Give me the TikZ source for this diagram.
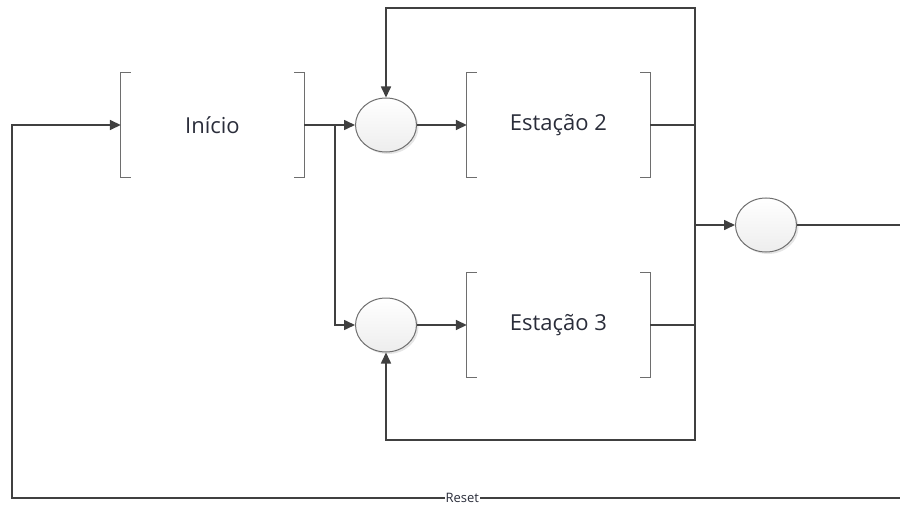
\documentclass[tikz,border=0pt]{standalone}
\usepackage{fontspec}
\setmainfont{Open Sans}
\usetikzlibrary{arrows.meta,shapes.geometric,shadows,positioning}

\definecolor{linegray}{HTML}{404040}
\definecolor{bracketgray}{HTML}{6E6E6E}
\definecolor{circgray}{HTML}{707070}
\definecolor{textdark}{HTML}{2A2D3A}

\tikzset{
  stage/.style={minimum width=183pt, minimum height=105pt, inner sep=0pt,
    font=\fontsize{22}{26}\selectfont, text=textdark},
  bracket/.style={draw=bracketgray, line width=1pt},
  junction/.style={ellipse, draw=circgray, line width=1pt,
    minimum width=61pt, minimum height=54pt, top color=white, bottom color=gray!14,
    drop shadow={shadow xshift=2pt, shadow yshift=-2pt, opacity=0.2}},
  wire/.style={draw=linegray, line width=1.6pt},
  flow/.style={wire, -{Triangle[length=11pt,width=10pt]}},
}

\begin{document}
\begin{tikzpicture}[x=1pt, y=-1pt]
\useasboundingbox (0,0) rectangle (900,508);

% stages
\node[stage] (ini) at (212.5,125) {\raisebox{-2pt}{Início}};
\node[stage] (est2) at (558.5,125) {\raisebox{-2pt}{Estação 2}};
\node[stage] (est3) at (558.5,325) {\raisebox{-2pt}{Estação 3}};
\foreach \n in {ini,est2,est3} {
  \draw[bracket] ([xshift=10pt]\n.north west) -- (\n.north west) -- (\n.south west) -- ([xshift=10pt]\n.south west);
  \draw[bracket] ([xshift=-10pt]\n.north east) -- (\n.north east) -- (\n.south east) -- ([xshift=-10pt]\n.south east);
}

% junctions
\node[junction] (j1) at (386,125) {};
\node[junction] (j2) at (386,325) {};
\node[junction] (jout) at (766,225) {};

\coordinate (split) at (335,125);
\coordinate (merge) at (695,225);
\coordinate (out) at (900,225);
\coordinate (ltop) at (695,8);
\coordinate (lbot) at (695,440);
\coordinate (rst) at (900,498);
\coordinate (rcorner) at (12,498);

% forward flow
\draw[wire] (ini.east) -- (split);
\draw[flow] (split) -- (j1.west);
\draw[flow] (split) |- (j2.west);
\draw[flow] (j1) -- (est2.west);
\draw[flow] (j2) -- (est3.west);
\draw[wire] (est2.east) -| (merge);
\draw[wire] (est3.east) -| (merge);
\draw[flow] (merge) -- (jout.west);
\draw[wire] (jout.east) -- (out);

% feedback loops
\draw[flow] (est2.east -| merge) -- (ltop) -| (j1.north);
\draw[flow] (est3.east -| merge) -- (lbot) -| (j2.south);
\draw[flow] (rst) -- node[pos=0.493, fill=white, inner sep=1pt, text=textdark,
  font=\fontsize{13}{14}\selectfont] {Reset} (rcorner) |- (ini.west);

\end{tikzpicture}
\end{document}
